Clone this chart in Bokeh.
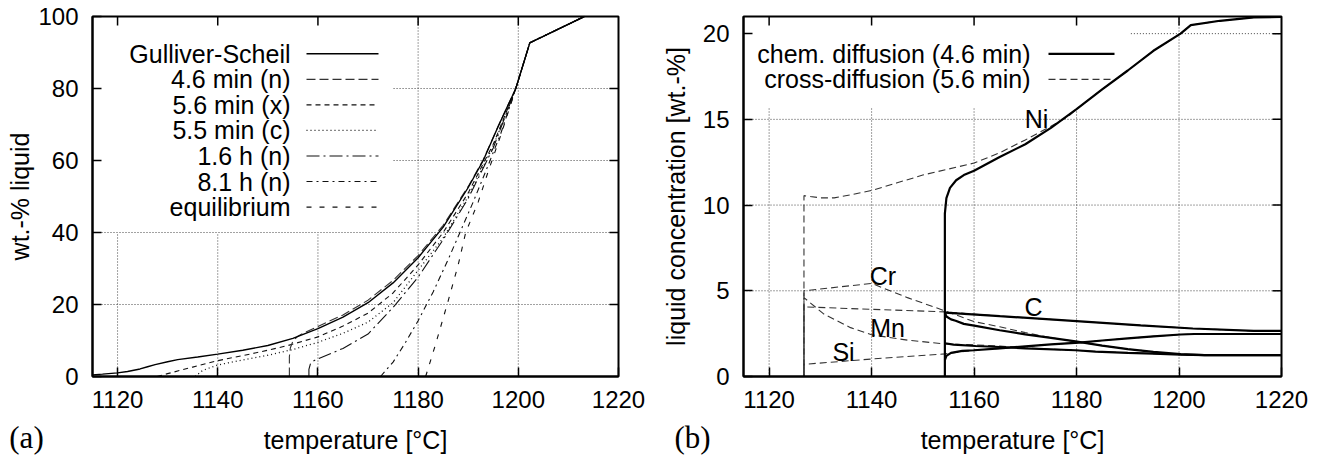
from bokeh.plotting import figure
from bokeh.layouts import row
from bokeh.models import Label, FixedTicker, Range1d, LinearAxis, BoxAnnotation
from bokeh.embed import file_html
from bokeh.resources import INLINE

# ---------------- data ----------------
x_ticks = [1120, 1140, 1160, 1180, 1200, 1220]
a_y_ticks = [0, 20, 40, 60, 80, 100]
b_y_ticks = [0, 5, 10, 15, 20]

# panel (a): wt.-% liquid vs temperature
scheil_T = [1115, 1117, 1120, 1122, 1124.5, 1126, 1127.5, 1130, 1132, 1136, 1140, 1145, 1150,
            1155, 1160, 1165, 1170, 1175, 1180, 1185, 1190, 1193, 1196, 1199.5, 1202.3, 1213.2]
scheil_L = [0.45, 0.65, 1.0, 1.4, 2.1, 2.7, 3.3, 4.1, 4.7, 5.4, 6.2, 7.3, 8.6,
            10.6, 13.3, 16.5, 20.5, 26, 33, 41.5, 52.5, 60, 69.5, 80, 92.7, 100]

n46_T = [1154.3, 1154.3, 1154.5, 1155, 1156, 1157, 1160, 1165, 1170, 1175, 1180, 1185, 1190,
         1193, 1196, 1199.5, 1202.3, 1213.2]
n46_L = [0, 5.5, 8, 9.8, 11.2, 12, 13.9, 17.1, 21.2, 26.7, 33.6, 42, 52.8,
         60.2, 69.6, 80, 92.7, 100]

x56_T = [1127.9, 1130, 1135, 1140, 1145, 1150, 1154, 1160, 1165, 1170, 1175, 1180, 1185, 1190,
         1195, 1199.5, 1202.3, 1213.2]
x56_L = [0, 0.8, 2.6, 4.4, 5.8, 7.3, 8.6, 11, 14, 17.6, 23.2, 31, 40, 51,
         64.5, 80, 92.7, 100]

c55_T = [1135.5, 1137, 1140, 1145, 1150, 1155, 1160, 1165, 1170, 1175, 1180, 1185, 1190, 1195,
         1199.5, 1202.3, 1213.2]
c55_L = [0, 1.7, 3.2, 4.6, 5.9, 7.5, 9.5, 12, 15.1, 20.5, 29.5, 38.5, 50, 64,
         80, 92.7, 100]

n16h_T = [1158.2, 1158.2, 1158.5, 1159.2, 1160, 1165, 1170, 1175, 1180, 1185, 1190, 1195,
          1199.5, 1202.3, 1213.2]
n16h_L = [0, 2, 3.5, 4.4, 4.9, 7.8, 11.8, 19.2, 27.6, 38, 49.5, 63.5,
          80, 92.7, 100]

n81h_T = [1172.5, 1175, 1177.5, 1180, 1183, 1186, 1188.5, 1191, 1193.5, 1196.5, 1199.5, 1202.3, 1213.2]
n81h_L = [0, 4, 9.5, 15.5, 23.5, 32.5, 40.5, 48.5, 57, 67.5, 80, 92.7, 100]

eq_T = [1181.5, 1183.5, 1186, 1188, 1189.5, 1192, 1194, 1196.5, 1199.5, 1202.3, 1213.2]
eq_L = [0, 9, 21, 31, 40, 48.5, 57, 67, 80, 92.7, 100]

a_labels = ["Gulliver-Scheil", "4.6 min (n)", "5.6 min (x)", "5.5 min (c)",
            "1.6 h (n)", "8.1 h (n)", "equilibrium"]

# panel (b): liquid concentration vs temperature
# chemical diffusion (4.6 min), solid
ni_chem_T = [1154.3, 1154.3, 1154.6, 1155.3, 1156.5, 1158, 1160, 1165, 1170, 1175, 1180, 1185,
             1190, 1195, 1200.3, 1202.3, 1208, 1214.6, 1220]
ni_chem_c = [0, 9.5, 10.4, 11.0, 11.45, 11.75, 12.0, 12.8, 13.55, 14.5, 15.6, 16.75,
             17.85, 19.0, 20.0, 20.5, 20.75, 20.95, 20.97]
c_chem_T = [1154.3, 1165, 1180, 1192.5, 1202.7, 1214.6, 1220]
c_chem_c = [3.73, 3.52, 3.23, 2.98, 2.8, 2.66, 2.66]
cr_chem_T = [1154.3, 1154.6, 1155.5, 1156.4, 1158, 1160.3, 1165, 1170, 1175, 1179.8, 1185, 1190,
             1195, 1200.3, 1205, 1220]
cr_chem_c = [3.73, 3.5, 3.33, 3.25, 3.07, 2.95, 2.7, 2.46, 2.25, 2.05, 1.8, 1.6,
             1.44, 1.3, 1.25, 1.25]
mn_chem_T = [1154.3, 1156, 1160.3, 1165, 1170, 1179.8, 1183.7, 1190, 1195, 1200.3, 1205, 1220]
mn_chem_c = [1.94, 1.86, 1.78, 1.72, 1.64, 1.53, 1.45, 1.38, 1.33, 1.28, 1.25, 1.25]
si_chem_T = [1154.3, 1154.6, 1155.5, 1157.7, 1160, 1165, 1170, 1175, 1180.5, 1185, 1190,
             1195, 1200.3, 1203, 1220]
si_chem_c = [0.95, 1.2, 1.38, 1.49, 1.53, 1.64, 1.76, 1.87, 1.98, 2.1, 2.22,
             2.34, 2.45, 2.48, 2.48]

# cross-diffusion (5.6 min), dashed
ni_cross_T = [1126.8, 1126.8, 1128, 1130, 1132.7, 1136, 1140, 1145, 1150, 1155, 1160, 1165,
              1170, 1175, 1178.5, 1180, 1185, 1190, 1195, 1200.3, 1202.3, 1208, 1214.6, 1220]
ni_cross_c = [0, 10.55, 10.5, 10.42, 10.42, 10.6, 10.85, 11.3, 11.75, 12.1, 12.45, 13.05,
              13.8, 14.6, 15.2, 15.6, 16.75, 17.85, 19.0, 20.0, 20.5, 20.75, 20.95, 20.97]
c_cross_T = [1126.8, 1126.8, 1140, 1154.3, 1165, 1180, 1192.5, 1202.7, 1214.6, 1220]
c_cross_c = [0, 4.06, 3.92, 3.77, 3.52, 3.23, 2.98, 2.8, 2.66, 2.66]
cr_cross_T = [1126.8, 1126.8, 1140, 1147, 1154.3, 1160, 1165, 1170, 1175, 1180.5, 1185, 1190,
              1195, 1200.3, 1205, 1220]
cr_cross_c = [0, 5.0, 5.43, 4.6, 3.83, 3.2, 2.9, 2.56, 2.27, 2.0, 1.8, 1.6,
              1.44, 1.3, 1.25, 1.25]
mn_cross_T = [1126.8, 1126.8, 1130.7, 1135.9, 1140, 1147, 1154.3, 1160, 1165, 1170, 1175,
              1179.8, 1183.7, 1190, 1195, 1200.3, 1205, 1220]
mn_cross_c = [0, 4.6, 3.64, 2.85, 2.43, 2.12, 1.9, 1.85, 1.77, 1.67, 1.59,
              1.53, 1.45, 1.38, 1.33, 1.28, 1.25, 1.25]
si_cross_T = [1126.8, 1126.8, 1140, 1154.3, 1157.7, 1160, 1165, 1170, 1175, 1180.5, 1185,
              1190, 1195, 1200.3, 1203, 1220]
si_cross_c = [0, 0.71, 1.02, 1.32, 1.45, 1.53, 1.64, 1.76, 1.87, 1.98, 2.1,
              2.22, 2.34, 2.45, 2.48, 2.48]

b_labels = ["chem. diffusion (4.6 min)", "cross-diffusion (5.6 min)"]
element_names = ["Ni", "Cr", "C", "Mn", "Si"]

# ---------------- layout helpers ----------------
FONT = "Liberation Sans"
SERIF = "Liberation Serif"
FIG_H = 456


class Frame:
    """Maps page pixels to data for a plot box drawn inside a figure whose
    frame fills the whole canvas (so nothing gets clipped)."""

    def __init__(self, fig_x0, fig_w, left, top, w, h, xr, yr):
        self.fig_x0, self.fig_w = fig_x0, fig_w
        self.left, self.top, self.w, self.h = left, top, w, h
        self.xr, self.yr = xr, yr

    def x(self, px):
        return self.xr[0] + (px - self.left) / self.w * (self.xr[1] - self.xr[0])

    def y(self, py):
        return self.yr[0] + (self.top + self.h - py) / self.h * (self.yr[1] - self.yr[0])

    def ranges(self):
        return (Range1d(self.x(self.fig_x0), self.x(self.fig_x0 + self.fig_w)),
                Range1d(self.y(FIG_H), self.y(0)))


def base_fig(fr, xt, yt, mask_x, mask_y):
    xr, yr = fr.ranges()
    p = figure(width=fr.fig_w, height=FIG_H, x_range=xr, y_range=yr,
               output_backend="svg", toolbar_location=None, title=None,
               x_axis_location=None, y_axis_location=None,
               min_border=0, min_border_left=0, min_border_right=0,
               min_border_top=0, min_border_bottom=0)
    p.background_fill_color = "white"
    p.border_fill_color = "white"
    p.outline_line_color = None
    p.xgrid.visible = False
    p.ygrid.visible = False

    # dotted grid, kept clear of the key area
    gx0, gy0, gx1, gy1 = [], [], [], []
    for gx in xt:
        if gx <= fr.xr[0] or gx >= fr.xr[1]:
            continue
        gx0.append(gx); gx1.append(gx); gy0.append(fr.yr[0])
        gy1.append(mask_y if gx < mask_x else fr.yr[1])
    for gy in yt:
        if gy <= fr.yr[0] or gy >= fr.yr[1]:
            continue
        gy0.append(gy); gy1.append(gy); gx1.append(fr.xr[1])
        gx0.append(fr.xr[0] if gy <= mask_y else mask_x)
    p.segment(x0=gx0, y0=gy0, x1=gx1, y1=gy1, line_color="#444",
              line_width=1, line_dash="1 2")

    # axes fixed on the plot box
    xa = LinearAxis(fixed_location=fr.yr[0], bounds=fr.xr, ticker=FixedTicker(ticks=xt))
    ya = LinearAxis(fixed_location=fr.xr[0], bounds=fr.yr, ticker=FixedTicker(ticks=yt))
    for ax in (xa, ya):
        ax.axis_line_width = 2
        ax.axis_line_color = "black"
        ax.major_tick_in = 9
        ax.major_tick_out = 0
        ax.major_tick_line_width = 1.5
        ax.minor_tick_in = 0
        ax.minor_tick_out = 0
        ax.major_label_text_font = FONT
        ax.major_label_text_font_size = "24px"
        ax.major_label_text_color = "black"
    xa.major_label_standoff = 14
    ya.major_label_standoff = 14
    p.add_layout(xa, "below")
    p.add_layout(ya, "left")

    # mirrored inward ticks on top and right
    tick_top = fr.y(fr.top + 9)
    tick_right = fr.x(fr.left + fr.w - 9)
    mx = [t for t in xt if fr.xr[0] < t < fr.xr[1]]
    my = [t for t in yt if fr.yr[0] < t < fr.yr[1]]
    p.segment(x0=mx, y0=[fr.yr[1]] * len(mx), x1=mx, y1=[tick_top] * len(mx),
              line_color="black", line_width=1.5)
    p.segment(x0=[fr.xr[1]] * len(my), y0=my, x1=[tick_right] * len(my), y1=my,
              line_color="black", line_width=1.5)

    # plot box border
    p.add_layout(BoxAnnotation(left=fr.xr[0], right=fr.xr[1], bottom=fr.yr[0], top=fr.yr[1],
                               fill_alpha=0, line_color="black", line_width=2, line_alpha=1))
    return p


def text(p, x, y, s, size="25px", align="center", angle=0, font=FONT):
    p.add_layout(Label(x=x, y=y, text=s, text_font=font, text_font_size=size,
                       text_align=align, text_baseline="middle", angle=angle,
                       angle_units="deg", text_color="black"))


# ---------------- panel (a) ----------------
fa = Frame(0, 650, 92, 16, 526, 360, (1115, 1220), (0, 100))
pa = base_fig(fa, x_ticks, a_y_ticks, 1175.1, 40)

a_series = [(scheil_T, scheil_L), (n46_T, n46_L), (x56_T, x56_L), (c55_T, c55_L),
            (n16h_T, n16h_L), (n81h_T, n81h_L), (eq_T, eq_L)]
a_styles = [dict(line_color="black", line_width=1.4, line_dash="solid"),
            dict(line_color="#333", line_width=1.1, line_dash="9 4"),
            dict(line_color="#111", line_width=1.1, line_dash="5 4"),
            dict(line_color="#111", line_width=1.3, line_dash="1 3"),
            dict(line_color="#111", line_width=1.1, line_dash="13 4 2 4"),
            dict(line_color="#111", line_width=1.1, line_dash="6 4 2 4"),
            dict(line_color="#111", line_width=1.1, line_dash="5 8")]
for (tx, ly), st in list(zip(a_series, a_styles))[::-1]:
    pa.line(tx, ly, **st)

for i, (lab, st) in enumerate(zip(a_labels, a_styles)):
    ry = 53.3 + i * 25.55
    text(pa, fa.x(290), fa.y(ry), lab, align="right")
    pa.line([fa.x(306), fa.x(378)], [fa.y(ry), fa.y(ry)], **st)

text(pa, fa.x(19), fa.y(196), "wt.-% liquid", angle=90)
text(pa, fa.x(355), fa.y(439), "temperature [°C]")
text(pa, fa.x(26), fa.y(437), "(a)", size="31px", font=SERIF)

# ---------------- panel (b) ----------------
fb = Frame(650, 678, 743, 16, 538, 360, (1115, 1220), (0, 21))
pb = base_fig(fb, x_ticks, b_y_ticks, 1190.6, 15.75)

cross_style = dict(line_color="#333", line_width=1.1, line_dash="7 4")
chem_style = dict(line_color="black", line_width=2.2, line_dash="solid")
cross_series = [(ni_cross_T, ni_cross_c), (c_cross_T, c_cross_c), (cr_cross_T, cr_cross_c),
                (mn_cross_T, mn_cross_c), (si_cross_T, si_cross_c)]
chem_series = [(ni_chem_T, ni_chem_c), (c_chem_T, c_chem_c), (cr_chem_T, cr_chem_c),
               (mn_chem_T, mn_chem_c), (si_chem_T, si_chem_c)]
for k, (tx, cy) in enumerate(cross_series):
    pb.line(tx, cy, line_dash_offset=(k * 4) % 11, **cross_style)
for tx, cy in chem_series:
    pb.line(tx, cy, **chem_style)

for i, (lab, st) in enumerate(zip(b_labels, [chem_style, cross_style])):
    ry = 53.3 + i * 25.55
    text(pb, fb.x(1030), fb.y(ry), lab, align="right")
    pb.line([fb.x(1048), fb.x(1114)], [fb.y(ry), fb.y(ry)], **st)

label_pos = {"Ni": (1036, 118), "Cr": (882.5, 275), "C": (1033, 306),
             "Mn": (887, 327.5), "Si": (843, 351)}
for name in element_names:
    px, py = label_pos[name]
    text(pb, fb.x(px), fb.y(py), name)

text(pb, fb.x(675), fb.y(196), "liquid concentration [wt.-%]", angle=90)
text(pb, fb.x(1012), fb.y(439), "temperature [°C]")
text(pb, fb.x(692), fb.y(437), "(b)", size="31px", font=SERIF)

layout = row(pa, pb)
open("out.html", "w").write(file_html(layout, INLINE))
